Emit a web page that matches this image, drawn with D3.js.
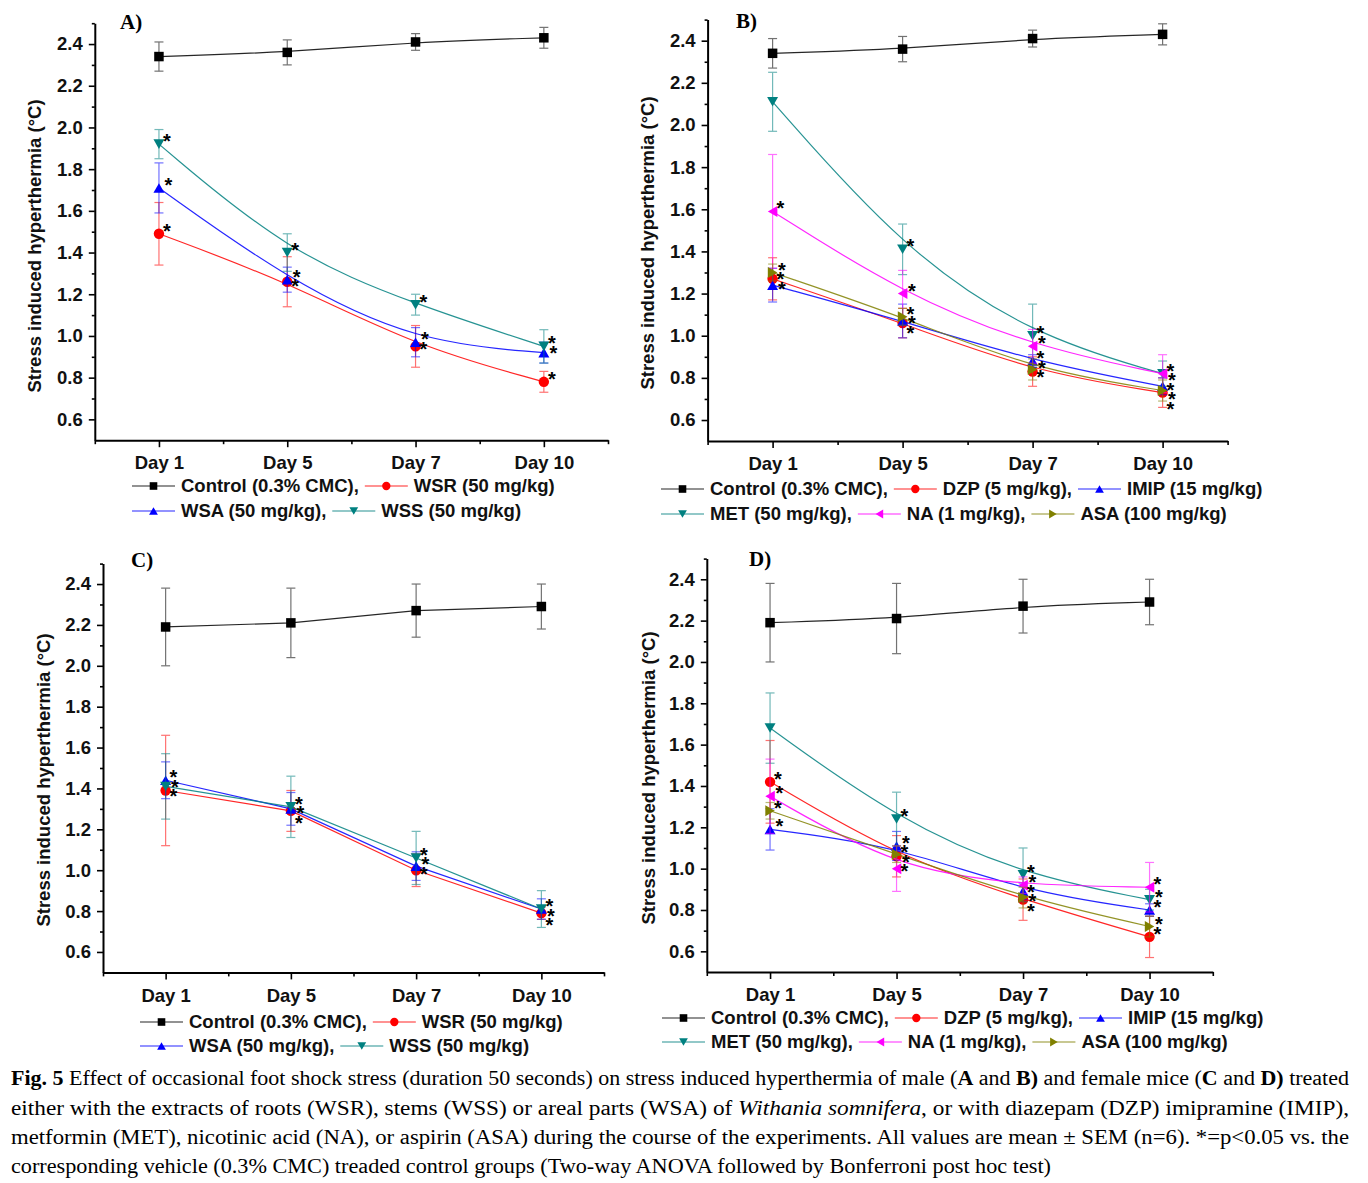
<!DOCTYPE html>
<html><head><meta charset="utf-8">
<script src="https://cdn.jsdelivr.net/npm/d3@7"></script>
<style>body{margin:0;background:#fff} svg{display:block}</style>
</head><body>
<svg id="chart" width="1368" height="1183"></svg>
<script>
// ---------- DATA ----------
const days = ["Day 1","Day 5","Day 7","Day 10"];
const yTicks = [0.6,0.8,1.0,1.2,1.4,1.6,1.8,2.0,2.2,2.4];
const yMinorTicks = [0.7,0.9,1.1,1.3,1.5,1.7,1.9,2.1,2.3,2.5];

// Panel A – male mice, W. somnifera extracts
const aControl = [2.34,2.36,2.41,2.43];  const aControlErr = [0.07,0.06,0.04,0.05];
const aWSR = [1.49,1.26,0.95,0.78];      const aWSRErr = [0.15,0.12,0.10,0.05];
const aWSA = [1.71,1.27,0.97,0.92];      const aWSAErr = [0.12,0.06,0.07,0.05];
const aWSS = [1.92,1.40,1.15,0.95];      const aWSSErr = [0.07,0.09,0.05,0.08];
const aWSRStar = [1,1,1,1], aWSAStar = [1,1,1,1], aWSSStar = [1,1,1,1];

// Panel B – male mice, reference drugs
const bControl = [2.34,2.36,2.41,2.43];  const bControlErr = [0.07,0.06,0.04,0.05];
const bDZP = [1.27,1.06,0.83,0.73];      const bDZPErr = [0.10,0.07,0.07,0.07];
const bIMIP = [1.24,1.07,0.88,0.76];     const bIMIPErr = [0.08,0.08,0.03,0.04];
const bMET = [2.11,1.41,1.00,0.82];      const bMETErr = [0.14,0.12,0.15,0.06];
const bNA = [1.59,1.20,0.95,0.82];       const bNAErr = [0.27,0.11,0.08,0.09];
const bASA = [1.30,1.09,0.84,0.74];      const bASAErr = [0.04,0.04,0.05,0.05];
const bDZPStar=[1,1,1,1], bIMIPStar=[1,1,1,1], bMETStar=[0,1,1,1], bNAStar=[1,1,1,1], bASAStar=[1,1,1,1];

// Panel C – female mice, W. somnifera extracts
const cControl = [2.19,2.21,2.27,2.29];  const cControlErr = [0.19,0.17,0.13,0.11];
const cWSR = [1.39,1.29,1.00,0.79];      const cWSRErr = [0.27,0.10,0.08,0.03];
const cWSA = [1.44,1.30,1.02,0.81];      const cWSAErr = [0.09,0.08,0.07,0.05];
const cWSS = [1.41,1.31,1.06,0.81];      const cWSSErr = [0.16,0.15,0.13,0.09];
const cWSRStar = [1,1,1,1], cWSAStar = [1,1,1,1], cWSSStar = [1,1,1,1];

// Panel D – female mice, reference drugs
const dControl = [2.19,2.21,2.27,2.29];  const dControlErr = [0.19,0.17,0.13,0.11];
const dDZP = [1.42,1.06,0.85,0.67];      const dDZPErr = [0.20,0.10,0.10,0.10];
const dIMIP = [1.19,1.11,0.89,0.80];     const dIMIPErr = [0.10,0.07,0.04,0.03];
const dMET = [1.68,1.24,0.97,0.85];      const dMETErr = [0.17,0.13,0.13,0.05];
const dNA = [1.35,1.00,0.92,0.91];       const dNAErr = [0.18,0.11,0.04,0.12];
const dASA = [1.28,1.07,0.86,0.72];      const dASAErr = [0.04,0.04,0.05,0.05];
const dDZPStar=[1,1,1,1], dIMIPStar=[1,1,1,1], dMETStar=[0,1,1,1], dNAStar=[1,1,1,1], dASAStar=[1,1,1,1];

const yTitle = "Stress induced hyperthermia (°C)";

const captionLines = [
  [{t:"Fig. 5",b:1},{t:" Effect of occasional foot shock stress (duration 50 seconds) on stress induced hyperthermia of male ("},{t:"A",b:1},{t:" and "},{t:"B)",b:1},{t:" and female mice ("},{t:"C",b:1},{t:" and "},{t:"D)",b:1},{t:" treated"}],
  [{t:"either with the extracts of roots (WSR), stems (WSS) or areal parts (WSA) of "},{t:"Withania somnifera",i:1},{t:", or with diazepam (DZP) imipramine (IMIP),"}],
  [{t:"metformin (MET), nicotinic acid (NA), or aspirin (ASA) during the course of the experiments. All values are mean ± SEM (n=6). *=p<0.05 vs. the"}],
  [{t:"corresponding vehicle (0.3% CMC) treaded control groups (Two-way ANOVA followed by Bonferroni post hoc test)"}]
];

// ---------- STYLE / LAYOUT ----------
const COL = {black:"#000000", red:"#ff0000", blue:"#0000ff", teal:"#008080", magenta:"#ff00ff", olive:"#808000"};
const FONT = "'Liberation Sans', Arial, sans-serif";

const panels = [
  { label:"A)", lx:120, ly:29, x0:94.8, x1:608, yTop:23.2, yBot:440.2, curve:d3.curveBasis,
    titleX:35, titleY:246, legX:132, legY:[486,511], legRows:[[0,1],[2,3]],
    series:[
      {name:"Control (0.3% CMC),", v:aControl, e:aControlErr, sym:"square", c:COL.black},
      {name:"WSR (50 mg/kg)", v:aWSR, e:aWSRErr, sym:"circle", c:COL.red, s:aWSRStar},
      {name:"WSA (50 mg/kg),", v:aWSA, e:aWSAErr, sym:"up", c:COL.blue, s:aWSAStar},
      {name:"WSS (50 mg/kg)", v:aWSS, e:aWSSErr, sym:"down", c:COL.teal, s:aWSSStar}]},
  { label:"B)", lx:736, ly:28, x0:707.6, x1:1227.6, yTop:19.6, yBot:441.1, curve:d3.curveBasis,
    titleX:648, titleY:243, legX:661, legY:[489,514], legRows:[[0,1,2],[3,4,5]],
    series:[
      {name:"Control (0.3% CMC),", v:bControl, e:bControlErr, sym:"square", c:COL.black},
      {name:"DZP (5 mg/kg),", v:bDZP, e:bDZPErr, sym:"circle", c:COL.red, s:bDZPStar},
      {name:"IMIP (15 mg/kg)", v:bIMIP, e:bIMIPErr, sym:"up", c:COL.blue, s:bIMIPStar},
      {name:"MET (50 mg/kg),", v:bMET, e:bMETErr, sym:"down", c:COL.teal, s:bMETStar},
      {name:"NA (1 mg/kg),", v:bNA, e:bNAErr, sym:"left", c:COL.magenta, s:bNAStar},
      {name:"ASA (100 mg/kg)", v:bASA, e:bASAErr, sym:"right", c:COL.olive, s:bASAStar}]},
  { label:"C)", lx:131, ly:567, x0:103, x1:604, yTop:563.6, yBot:972.4, curve:d3.curveLinear,
    titleX:44, titleY:780, legX:140, legY:[1022,1046], legRows:[[0,1],[2,3]],
    series:[
      {name:"Control (0.3% CMC),", v:cControl, e:cControlErr, sym:"square", c:COL.black},
      {name:"WSR (50 mg/kg)", v:cWSR, e:cWSRErr, sym:"circle", c:COL.red, s:cWSRStar},
      {name:"WSA (50 mg/kg),", v:cWSA, e:cWSAErr, sym:"up", c:COL.blue, s:cWSAStar},
      {name:"WSS (50 mg/kg)", v:cWSS, e:cWSSErr, sym:"down", c:COL.teal, s:cWSSStar}]},
  { label:"D)", lx:749, ly:566, x0:706.8, x1:1212.8, yTop:558.6, yBot:972, curve:d3.curveBasis,
    titleX:649, titleY:778, legX:662, legY:[1018,1042], legRows:[[0,1,2],[3,4,5]],
    series:[
      {name:"Control (0.3% CMC),", v:dControl, e:dControlErr, sym:"square", c:COL.black},
      {name:"DZP (5 mg/kg),", v:dDZP, e:dDZPErr, sym:"circle", c:COL.red, s:dDZPStar},
      {name:"IMIP (15 mg/kg)", v:dIMIP, e:dIMIPErr, sym:"up", c:COL.blue, s:dIMIPStar},
      {name:"MET (50 mg/kg),", v:dMET, e:dMETErr, sym:"down", c:COL.teal, s:dMETStar},
      {name:"NA (1 mg/kg),", v:dNA, e:dNAErr, sym:"left", c:COL.magenta, s:dNAStar},
      {name:"ASA (100 mg/kg)", v:dASA, e:dASAErr, sym:"right", c:COL.olive, s:dASAStar}]}
];

function symPath(sym, k) {
  const s = 11*k, h = s*0.866;
  if (sym==="square") return d3.symbol(d3.symbolSquare, (9.5*k)**2)();
  if (sym==="circle") return d3.symbol(d3.symbolCircle, Math.PI*(5.2*k)**2)();
  if (sym==="up")    return `M0,${-h/2}L${s/2},${h/2}L${-s/2},${h/2}Z`;
  if (sym==="down")  return `M0,${h/2}L${s/2},${-h/2}L${-s/2},${-h/2}Z`;
  if (sym==="left")  return `M${-h/2},0L${h/2},${-s/2}L${h/2},${s/2}Z`;
  if (sym==="right") return `M${h/2},0L${-h/2},${-s/2}L${-h/2},${s/2}Z`;
}

const svg = d3.select("#chart");
svg.append("rect").attr("width",1368).attr("height",1183).attr("fill","#fff");

panels.forEach(p => {
  const g = svg.append("g");
  const x = d3.scaleLinear().domain([-0.5,3.5]).range([p.x0,p.x1]);
  const y = d3.scaleLinear().domain([0.5,2.5]).range([p.yBot,p.yTop]);

  // axes
  g.append("g").attr("transform",`translate(${p.x0},0)`)
    .call(d3.axisLeft(y).tickValues(yTicks).tickFormat(d3.format(".1f")).tickSize(6).tickPadding(6).tickSizeOuter(0));
  g.append("g").attr("transform",`translate(${p.x0},0)`)
    .call(d3.axisLeft(y).tickValues(yMinorTicks).tickFormat("").tickSize(3).tickSizeOuter(0))
    .select(".domain").remove();
  g.append("g").attr("transform",`translate(0,${p.yBot})`)
    .call(d3.axisBottom(x).tickValues([0,1,2,3]).tickFormat(i=>days[i]).tickSize(7).tickPadding(9).tickSizeOuter(0));
  g.append("g").attr("transform",`translate(0,${p.yBot})`)
    .call(d3.axisBottom(x).tickValues([-0.5,0.5,1.5,2.5,3.5]).tickFormat("").tickSize(4).tickSizeOuter(0))
    .select(".domain").remove();
  g.selectAll(".domain").attr("stroke","#000").attr("stroke-width",2);
  g.selectAll(".tick line").attr("stroke","#000").attr("stroke-width",1.6);
  g.selectAll(".tick text").attr("font-family",FONT).attr("font-weight","bold").attr("font-size","18.5px").attr("fill","#111");

  // y title
  g.append("text").attr("transform",`translate(${p.titleX},${p.titleY}) rotate(-90)`)
    .attr("text-anchor","middle").attr("dy","0.35em")
    .attr("font-family",FONT).attr("font-weight","bold").attr("font-size","18.5px").attr("fill","#111")
    .text(yTitle);

  // panel label
  g.append("text").attr("x",p.lx).attr("y",p.ly)
    .attr("font-family","'Liberation Serif','Times New Roman',serif").attr("font-weight","bold")
    .attr("font-size","21px").text(p.label);

  const line = d3.line().x((d,i)=>x(i)).y(d=>y(d)).curve(p.curve);

  p.series.forEach(s => {
    const sg = g.append("g");
    s.v.forEach((v,i) => {
      const eb = sg.append("g").attr("stroke",s.c).attr("stroke-width",1.2).attr("opacity",0.55);
      const cx = x(i), yt = y(v+s.e[i]), yb = y(v-s.e[i]);
      eb.append("line").attr("x1",cx).attr("x2",cx).attr("y1",yt).attr("y2",yb);
      eb.append("line").attr("x1",cx-4.5).attr("x2",cx+4.5).attr("y1",yt).attr("y2",yt);
      eb.append("line").attr("x1",cx-4.5).attr("x2",cx+4.5).attr("y1",yb).attr("y2",yb);
    });
    sg.append("path").datum(s.v).attr("d",line).attr("fill","none")
      .attr("stroke",s.c).attr("stroke-width",1.2).attr("opacity",0.85);
    sg.selectAll("path.m").data(s.v).join("path").attr("class","m")
      .attr("d",symPath(s.sym,1)).attr("fill",s.c)
      .attr("transform",(d,i)=>`translate(${x(i)},${y(d)})`);
  });

  // significance stars: one text per day; each "*" glyph positioned by per-character x/y lists
  days.forEach((dname,i) => {
    const st = p.series.filter(s=>s.s && s.s[i]).map(s=>({yc:y(s.v[i])-7}));
    if (!st.length) return;
    st.sort((a,b)=>a.yc-b.yc);
    for (let k=1;k<st.length;k++) st[k].yc = Math.max(st[k].yc, st[k-1].yc+9.5);
    g.append("text").attr("font-family",FONT).attr("font-weight","bold").attr("font-size","20px")
      .attr("x", st.map((o,k)=>(x(i)+4+(k%2)*1.5).toFixed(1)).join(" "))
      .attr("y", st.map(o=>(o.yc+11).toFixed(1)).join(" "))
      .text("*".repeat(st.length));
  });

  // legend
  p.legRows.forEach((row,ri) => {
    let cx = p.legX;
    const ly = p.legY[ri];
    row.forEach(si => {
      const s = p.series[si];
      g.append("line").attr("x1",cx).attr("x2",cx+43).attr("y1",ly).attr("y2",ly)
        .attr("stroke",s.c).attr("stroke-width",1.2).attr("opacity",0.85);
      g.append("path").attr("d",symPath(s.sym,0.8)).attr("fill",s.c)
        .attr("transform",`translate(${cx+21.5},${ly})`);
      const t = g.append("text").attr("x",cx+49).attr("y",ly).attr("dy","0.35em")
        .attr("font-family",FONT).attr("font-weight","bold").attr("font-size","18.5px").attr("fill","#111")
        .text(s.name);
      cx = cx + 49 + t.node().getComputedTextLength() + 6;
    });
  });
});

// caption
const capY = [1085,1115,1144,1173];
const capW = [1338,1338,1338,1040];
captionLines.forEach((parts,li) => {
  const t = svg.append("text").attr("x",11).attr("y",capY[li])
    .attr("font-family","'Liberation Serif','Times New Roman',serif").attr("font-size","20px")
    .style("white-space","pre")
    .attr("textLength",capW[li]).attr("lengthAdjust","spacingAndGlyphs");
  parts.forEach(pt => {
    const ts = t.append("tspan").text(pt.t);
    if (pt.b) ts.attr("font-weight","bold");
    if (pt.i) ts.attr("font-style","italic");
  });
});
</script>
</body></html>
